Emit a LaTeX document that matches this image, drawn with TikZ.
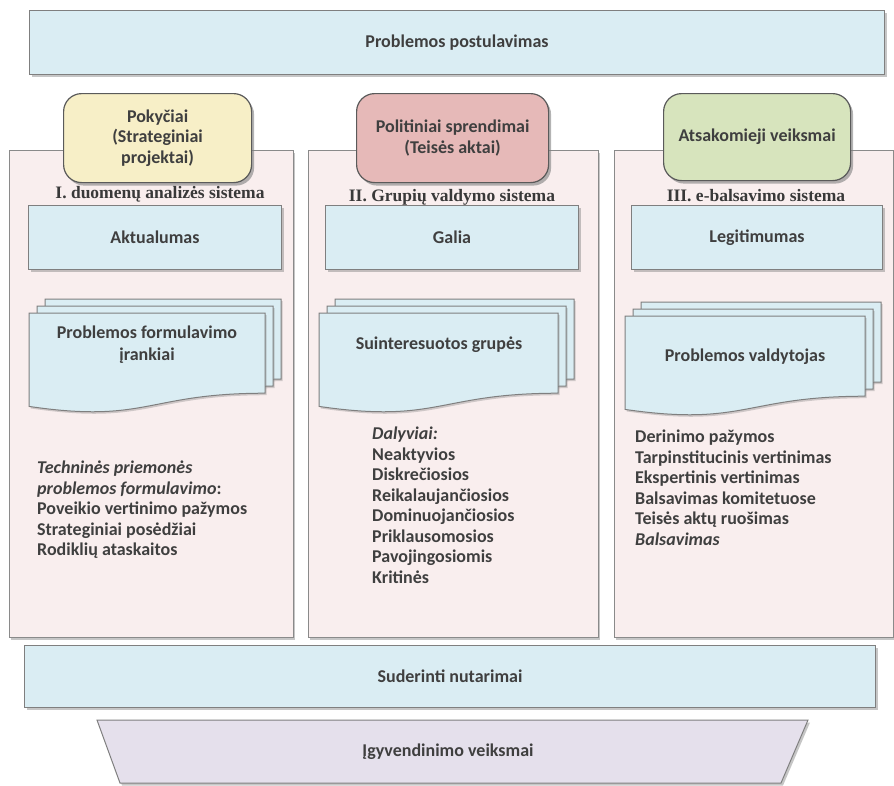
\documentclass[tikz,border=0pt]{standalone}
\usepackage{fontspec}
\setmainfont{Carlito}
\newfontfamily\headfont{Liberation Serif}
\usetikzlibrary{shadows}
\definecolor{txt}{HTML}{3F3F3F}
\definecolor{boxfill}{HTML}{DAEDF3}
\definecolor{boxline}{HTML}{7F7F7F}
\definecolor{panelfill}{HTML}{F9EEEE}
\definecolor{panelline}{HTML}{8A8A8A}
\definecolor{tabyellow}{HTML}{F7EFC7}
\definecolor{tabpink}{HTML}{E6B9B8}
\definecolor{tabgreen}{HTML}{D7E4BD}
\definecolor{tabline}{HTML}{5A5A5A}
\definecolor{trapfill}{HTML}{E5E0EC}
% one page of a document stack: x, y (top), width, height
\newcommand\docpage[4]{%
  \filldraw[docpg] ({#1},{#2}) -- ({#1+#3},{#2}) -- ({#1+#3},{#2+0.802*#4})
    .. controls ({#1+0.5*#3},{#2+0.802*#4}) and ({#1+0.5*#3},{#2+1.108*#4}) ..
    ({#1},{#2+0.934*#4}) -- cycle;}
\newcommand\docstack[4]{%
  \docpage{#1+16}{#2-14}{#3}{#4}%
  \docpage{#1+8}{#2-7}{#3}{#4}%
  \docpage{#1}{#2}{#3}{#4}}
\begin{document}
\begin{tikzpicture}[x=1pt,y=-1pt,
  font=\fontsize{18}{20.5}\selectfont\bfseries, text=txt,
  shade/.style={drop shadow={shadow xshift=2pt,shadow yshift=-2.5pt,opacity=.45}},
  bluebox/.style={draw=boxline, fill=boxfill, line width=1pt, shade, anchor=north west},
  panel/.style={draw=panelline, fill=panelfill, line width=1pt, shade},
  tabbox/.style={draw=tabline, line width=1.2pt, rounded corners=18pt, align=center,
    anchor=north west, minimum width=188pt, minimum height=89pt,
    drop shadow={shadow xshift=2.5pt,shadow yshift=-3pt,opacity=.6}},
  head/.style={font=\headfont\fontsize{17.5}{20}\selectfont\bfseries, text=txt!90!black},
  docpg/.style={draw=boxline, fill=boxfill, line width=1pt,
    drop shadow={shadow xshift=1.5pt,shadow yshift=-2pt,opacity=.35}},
  listtext/.style={anchor=north west, align=left, inner sep=0pt},
  trap/.style={draw=boxline, fill=trapfill, line width=1pt, shade}]
\useasboundingbox (0,0) rectangle (894,785);
\clip (0,0) rectangle (894,785);

% top bar
\node[bluebox, minimum width=855pt, minimum height=64pt] (post) at (29,10) {Problemos postulavimas};

% the three system panels
\path[panel] (9,150) rectangle (293,637);
\path[panel] (308,150) rectangle (598,637);
\path[panel] (614,150) rectangle (893,637);

% rounded tabs on top of the panels
\node[tabbox, fill=tabyellow] (tab1) at (63,93) {Pokyčiai\\(Strateginiai\\projektai)};
\node[tabbox, fill=tabpink, minimum width=192pt] (tab2) at (356,93) {Politiniai sprendimai\\(Teisės aktai)};
\node[tabbox, fill=tabgreen, minimum width=187pt, minimum height=87pt] (tab3) at (663,93) {Atsakomieji veiksmai};

% panel headings
\node[head] (h1) at (160,194) {I. duomenų analizės sistema};
\node[head] (h2) at (452,197) {II. Grupių valdymo sistema};
\node[head] (h3) at (756,196) {III. e-balsavimo sistema};

% property boxes
\node[bluebox, minimum width=253pt, minimum height=64pt] (b1) at (28,205) {Aktualumas};
\node[bluebox, minimum width=253pt, minimum height=64pt] (b2) at (325,205) {Galia};
\node[bluebox, minimum width=251pt, minimum height=64pt] (b3) at (631,205) {Legitimumas};

% document stacks
\docstack{29}{313}{236}{100}
\docstack{319}{313}{239}{100}
\docstack{625}{316}{240}{100}
\node[align=center, font=\fontsize{18}{22}\selectfont\bfseries] (d1) at (147,345) {Problemos formulavimo\\įrankiai};
\node (d2) at (439,345) {Suinteresuotos grupės};
\node (d3) at (745,357) {Problemos valdytojas};

% lists
\node[listtext] (l1) at (37,461) {\textit{Techninės priemonės}\\\textit{problemos formulavimo}:\\Poveikio vertinimo pažymos\\Strateginiai posėdžiai\\Rodiklių ataskaitos};
\node[listtext] (l2) at (372,427) {\textit{Dalyviai:}\\Neaktyvios\\Diskrečiosios\\Reikalaujančiosios\\Dominuojančiosios\\Priklausomosios\\Pavojingosiomis\\Kritinės};
\node[listtext] (l3) at (635,430) {Derinimo pažymos\\Tarpinstitucinis vertinimas\\Ekspertinis vertinimas\\Balsavimas komitetuose\\Teisės aktų ruošimas\\\textit{Balsavimas}};

% bottom bars
\node[bluebox, minimum width=851pt, minimum height=62pt] (sud) at (24,645) {Suderinti nutarimai};
\path[trap] (97,720) -- (808,720) -- (781,783) -- (120,783) -- cycle;
\node (igy) at (448,752) {Įgyvendinimo veiksmai};
\end{tikzpicture}
\end{document}
